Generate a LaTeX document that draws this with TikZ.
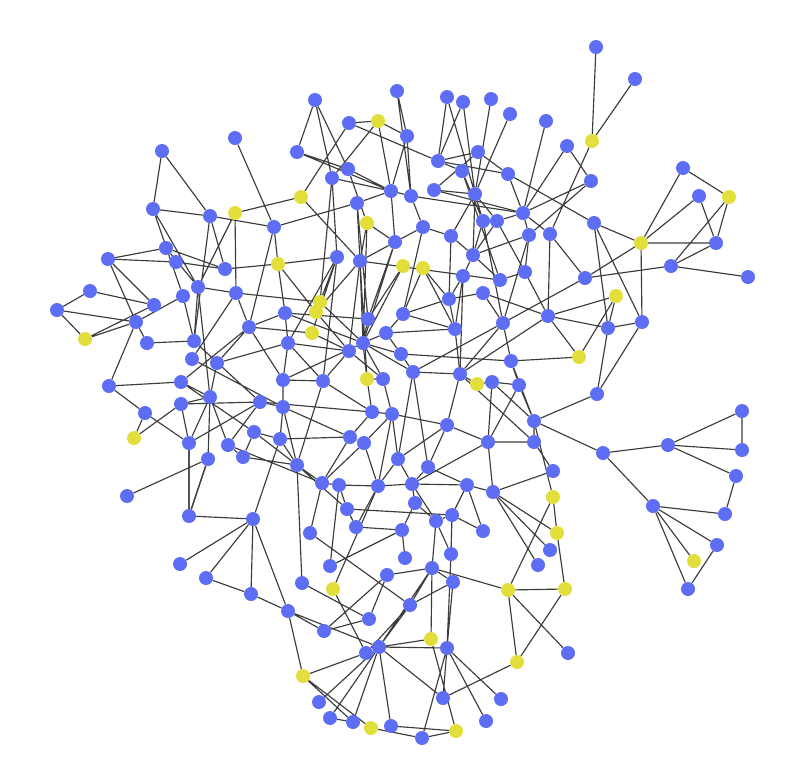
\documentclass[tikz,border=0pt]{standalone}
\usetikzlibrary{backgrounds}
\definecolor{nblue}{HTML}{5E6EF4}
\definecolor{nyel}{HTML}{E2DE3C}
\definecolor{edgec}{HTML}{3C3C3C}
\tikzset{
 bn/.style={circle,fill=nblue,draw=none,minimum size=14pt,inner sep=0pt},
 yn/.style={circle,fill=nyel,draw=none,minimum size=14pt,inner sep=0pt},
 ln/.style={draw=edgec,line width=1.15pt}
}
\begin{document}
\begin{tikzpicture}[x=1pt,y=-1pt]
\useasboundingbox (0,0) rectangle (800,772);
% top right
\node[bn] (a1) at (596,47) {};
\node[bn] (a2) at (635,79) {};
\node[yn] (a3) at (592,141) {};
\node[bn] (a4) at (546,121) {};
\node[bn] (a5) at (567,146) {};
\node[bn] (a6) at (591,181) {};
\node[bn] (a7) at (683,168) {};
\node[bn] (a8) at (699,196) {};
\node[yn] (a9) at (729,197) {};
\node[bn] (a10) at (594,223) {};
\node[yn] (a11) at (641,243) {};
\node[bn] (a12) at (716,243) {};
\node[bn] (a13) at (671,266) {};
\node[bn] (a14) at (748,277) {};
\node[bn] (a15) at (585,278) {};
\node[bn] (a16) at (523,213) {};
\node[bn] (a17) at (529,235) {};
\node[bn] (a18) at (550,234) {};
\node[bn] (a19) at (525,272) {};
% top center
\node[bn] (b1) at (315,100) {};
\node[bn] (b2) at (397,91) {};
\node[bn] (b3) at (447,97) {};
\node[bn] (b4) at (463,102) {};
\node[bn] (b5) at (491,99) {};
\node[bn] (b6) at (510,114) {};
\node[bn] (b7) at (349,123) {};
\node[yn] (b8) at (378,121) {};
\node[bn] (b9) at (407,136) {};
\node[bn] (b10) at (297,152) {};
\node[bn] (b11) at (438,161) {};
\node[bn] (b12) at (478,152) {};
\node[bn] (b13) at (462,171) {};
\node[bn] (b14) at (508,174) {};
\node[bn] (b15) at (348,169) {};
\node[bn] (b16) at (332,178) {};
\node[bn] (b17) at (391,191) {};
\node[bn] (b18) at (411,196) {};
\node[bn] (b19) at (434,190) {};
\node[bn] (b20) at (475,194) {};
\node[yn] (b21) at (301,197) {};
\node[bn] (b22) at (357,203) {};
\node[yn] (b23) at (367,223) {};
\node[bn] (b24) at (483,221) {};
\node[bn] (b25) at (497,221) {};
\node[bn] (b26) at (423,227) {};
\node[bn] (b27) at (451,236) {};
\node[bn] (b28) at (395,242) {};
\node[bn] (b29) at (473,255) {};
\node[bn] (b30) at (337,257) {};
\node[bn] (b31) at (360,261) {};
\node[yn] (b32) at (403,266) {};
\node[yn] (b33) at (423,268) {};
\node[bn] (b34) at (463,276) {};
% top left
\node[bn] (c1) at (235,138) {};
\node[bn] (c2) at (162,151) {};
\node[bn] (c3) at (153,209) {};
\node[bn] (c4) at (210,216) {};
\node[yn] (c5) at (235,213) {};
\node[bn] (c6) at (274,227) {};
\node[yn] (c7) at (278,264) {};
\node[bn] (c8) at (166,248) {};
\node[bn] (c9) at (108,259) {};
\node[bn] (c10) at (176,262) {};
\node[bn] (c11) at (225,269) {};
% left
\node[bn] (d1) at (90,291) {};
\node[bn] (d2) at (57,310) {};
\node[yn] (d3) at (85,339) {};
\node[bn] (d4) at (136,322) {};
\node[bn] (d5) at (154,305) {};
\node[bn] (d6) at (183,296) {};
\node[bn] (d7) at (198,287) {};
\node[bn] (d8) at (236,293) {};
\node[bn] (d9) at (249,327) {};
\node[bn] (d10) at (285,313) {};
\node[bn] (d11) at (147,343) {};
\node[bn] (d12) at (194,341) {};
\node[bn] (d13) at (192,359) {};
\node[bn] (d14) at (217,363) {};
\node[bn] (d15) at (288,343) {};
\node[bn] (d16) at (109,386) {};
\node[bn] (d17) at (181,382) {};
\node[bn] (d18) at (210,397) {};
\node[bn] (d19) at (181,404) {};
\node[bn] (d20) at (260,402) {};
\node[bn] (d21) at (283,407) {};
\node[bn] (d22) at (283,380) {};
\node[bn] (d23) at (145,413) {};
\node[yn] (d24) at (134,438) {};
\node[bn] (d25) at (189,443) {};
\node[bn] (d26) at (228,445) {};
\node[bn] (d27) at (254,432) {};
\node[bn] (d28) at (280,439) {};
\node[bn] (d29) at (208,459) {};
\node[bn] (d30) at (243,457) {};
\node[bn] (d31) at (127,496) {};
\node[bn] (d32) at (189,516) {};
\node[bn] (d33) at (253,519) {};
\node[bn] (e1) at (180,564) {};
\node[bn] (e2) at (206,578) {};
\node[bn] (e3) at (251,594) {};
\node[bn] (e4) at (288,611) {};
% center
\node[bn] (f1) at (500,280) {};
\node[bn] (f2) at (483,293) {};
\node[bn] (f3) at (449,299) {};
\node[yn] (f4) at (320,302) {};
\node[yn] (f5) at (316,312) {};
\node[bn] (f6) at (368,319) {};
\node[bn] (f7) at (403,314) {};
\node[bn] (f8) at (455,329) {};
\node[bn] (f9) at (503,323) {};
\node[yn] (f10) at (312,333) {};
\node[bn] (f11) at (386,333) {};
\node[bn] (f12) at (363,343) {};
\node[bn] (f13) at (349,351) {};
\node[bn] (f14) at (401,354) {};
\node[bn] (f15) at (511,361) {};
\node[bn] (f16) at (323,381) {};
\node[yn] (f17) at (367,379) {};
\node[bn] (f18) at (383,379) {};
\node[bn] (f19) at (413,372) {};
\node[bn] (f20) at (460,374) {};
\node[yn] (f21) at (477,384) {};
\node[bn] (f22) at (492,382) {};
\node[bn] (f23) at (519,385) {};
\node[bn] (f24) at (372,412) {};
\node[bn] (f25) at (392,414) {};
\node[bn] (f26) at (447,425) {};
\node[bn] (f27) at (488,442) {};
\node[bn] (f28) at (350,437) {};
\node[bn] (f29) at (364,443) {};
\node[bn] (f30) at (297,465) {};
\node[bn] (f31) at (398,459) {};
\node[bn] (f32) at (428,467) {};
\node[bn] (f33) at (322,483) {};
\node[bn] (f34) at (339,485) {};
\node[bn] (f35) at (378,486) {};
\node[bn] (f36) at (412,484) {};
\node[bn] (f37) at (467,485) {};
\node[bn] (f38) at (493,492) {};
\node[bn] (f39) at (347,509) {};
\node[bn] (f40) at (415,503) {};
\node[bn] (f41) at (452,515) {};
% right middle
\node[yn] (g1) at (616,296) {};
\node[bn] (g2) at (548,316) {};
\node[bn] (g3) at (608,328) {};
\node[bn] (g4) at (642,322) {};
\node[yn] (g5) at (579,357) {};
\node[bn] (g7) at (597,394) {};
\node[bn] (g8) at (534,421) {};
\node[bn] (g9) at (534,442) {};
\node[bn] (g10) at (603,453) {};
\node[bn] (g11) at (668,445) {};
\node[bn] (g12) at (742,411) {};
\node[bn] (g13) at (742,450) {};
\node[bn] (g14) at (736,476) {};
\node[bn] (g15) at (553,471) {};
\node[yn] (g16) at (553,497) {};
\node[bn] (g17) at (653,506) {};
\node[bn] (g18) at (725,514) {};
\node[yn] (h1) at (557,533) {};
\node[bn] (h2) at (550,550) {};
\node[bn] (h3) at (538,565) {};
\node[yn] (h4) at (565,589) {};
\node[bn] (h5) at (568,653) {};
\node[yn] (h6) at (517,662) {};
\node[bn] (h7) at (717,545) {};
\node[yn] (h8) at (694,561) {};
\node[bn] (h9) at (688,589) {};
% bottom
\node[bn] (i1) at (436,521) {};
\node[bn] (i2) at (483,531) {};
\node[bn] (i3) at (310,533) {};
\node[bn] (i4) at (356,527) {};
\node[bn] (i5) at (402,530) {};
\node[bn] (i6) at (451,554) {};
\node[bn] (i7) at (405,558) {};
\node[bn] (i8) at (330,566) {};
\node[bn] (i9) at (387,575) {};
\node[bn] (i10) at (432,568) {};
\node[bn] (i11) at (453,582) {};
\node[bn] (i12) at (302,583) {};
\node[yn] (i13) at (333,589) {};
\node[yn] (i14) at (508,590) {};
\node[bn] (i15) at (410,605) {};
\node[bn] (i16) at (369,619) {};
\node[bn] (i17) at (324,631) {};
\node[yn] (i18) at (431,639) {};
\node[bn] (i19) at (379,647) {};
\node[bn] (i20) at (447,648) {};
\node[bn] (i21) at (366,653) {};
\node[yn] (i22) at (303,676) {};
\node[bn] (i23) at (443,698) {};
\node[bn] (i24) at (501,699) {};
\node[bn] (i25) at (319,702) {};
\node[bn] (i26) at (330,718) {};
\node[bn] (i27) at (353,722) {};
\node[yn] (i28) at (371,728) {};
\node[bn] (i29) at (391,726) {};
\node[bn] (i30) at (422,738) {};
\node[yn] (i31) at (456,731) {};
\node[bn] (i32) at (486,721) {};

\begin{pgfonlayer}{background}
\draw[ln] (a1)--(a3) (a2)--(a3) (a3)--(a18) (a4)--(a16) (a5)--(a16) (a5)--(a6) (a6)--(a16) (a16)--(a17) (a16)--(a18) (b14)--(a10) (a10)--(a11) (a10)--(g3) (a10)--(g4) (a11)--(a7) (a11)--(a8) (a11)--(a12) (a11)--(a15) (a11)--(g4) (a7)--(a9) (a8)--(a12) (a9)--(a12) (a9)--(a13) (a12)--(a13) (a13)--(a14) (a13)--(a15) (a18)--(a15) (a17)--(a19) (a15)--(f9) (b29)--(a17) (b18)--(a16) (b14)--(a16) (a6)--(a17) (b25)--(a16);
\draw[ln] (g2)--(g1) (g2)--(g3) (g2)--(g5) (g2)--(f20) (g2)--(f2) (g1)--(g3) (g1)--(g5) (g3)--(g4) (g3)--(g7) (g4)--(g7) (g5)--(f15) (g7)--(g8) (g8)--(g10) (g10)--(g11) (g11)--(g12) (g11)--(g13) (g12)--(g13) (g11)--(g14) (g10)--(g17) (g17)--(g18) (g14)--(g18) (g17)--(h7) (g17)--(h8) (g17)--(h9) (h7)--(h9) (g8)--(g9) (g9)--(g15) (g8)--(g16) (g8)--(f23) (g8)--(f22) (g8)--(f15) (g16)--(h1) (h1)--(h4) (g16)--(i14) (f38)--(h1) (f38)--(h2) (f38)--(h3) (i14)--(h4) (h4)--(h6) (i14)--(h5) (h6)--(i23) (i14)--(h6) (i14)--(i10) (f38)--(g15);
\draw[ln] (d32)--(d33) (d33)--(e1) (d33)--(e2) (d33)--(e3) (d33)--(e4) (e2)--(e3) (e3)--(e4) (d32)--(d25) (d32)--(d29) (d33)--(d28) (e4)--(i17) (e4)--(i19) (e4)--(i22);
\draw[ln] (f39)--(f41) (i4)--(i5) (i3)--(i15) (i8)--(i5) (i12)--(i16) (i13)--(i21) (i13)--(f35) (i17)--(i16) (i17)--(i9) (i19)--(i25) (i19)--(i26) (i19)--(i27) (i19)--(i29) (i19)--(i23) (i19)--(i15) (i19)--(i10) (i21)--(i22) (i21)--(i15) (i22)--(i27) (i18)--(i10) (i18)--(i31) (i20)--(i23) (i20)--(i24) (i20)--(i32) (i20)--(i30) (i20)--(i11) (i30)--(i31) (i29)--(i31) (i28)--(i30) (i26)--(i27) (i1)--(i6) (i1)--(i10) (i5)--(i7) (i9)--(i10) (i15)--(i10) (i15)--(i11) (i10)--(i11) (f41)--(i2) (i19)--(i18) (i19)--(i20) (i22)--(i28) (i16)--(i9) (i6)--(i20) (i3)--(f33) (i8)--(f34) (i12)--(f30) (i2)--(f37);
\draw[ln] (d1)--(d2) (d1)--(d5) (d2)--(d3) (d2)--(d4) (d3)--(d4) (d3)--(d5) (c9)--(d5) (c9)--(d4) (d4)--(d16) (d4)--(d6) (d7)--(d8) (d6)--(d12) (d7)--(d12) (d7)--(d18) (d8)--(d9) (d8)--(d13) (d11)--(d12) (d9)--(d10) (d9)--(d22) (d9)--(d17) (d9)--(d14) (d14)--(d15) (d14)--(d18) (d16)--(d17) (d16)--(d23) (d17)--(d18) (d18)--(d19) (d19)--(d20) (d18)--(d26) (d18)--(d25) (d18)--(d29) (d19)--(d25) (d20)--(d26) (d20)--(d21) (d20)--(d25) (d23)--(d24) (d23)--(d25) (d24)--(d19) (d25)--(d32) (d29)--(d31) (d29)--(d32) (d27)--(d28) (d26)--(d30) (d27)--(d30) (d11)--(d4) (d13)--(d21) (d12)--(d20) (d17)--(d27);
\draw[ln] (c1)--(c6) (c2)--(c3) (c2)--(c4) (c3)--(c4) (c4)--(c6) (c5)--(b21) (c3)--(d6) (c4)--(d12) (c4)--(c11) (c5)--(d8) (c5)--(d7) (c6)--(c7) (c6)--(d9) (c6)--(b22) (c9)--(c8) (c9)--(c10) (c10)--(c11) (c11)--(c7) (c3)--(d7) (c8)--(d7) (c8)--(c11);
\draw[ln] (b1)--(b10) (b1)--(b16) (b1)--(b15) (b7)--(b8) (b7)--(b21) (b7)--(b11) (b8)--(b17) (b8)--(b9) (b2)--(b9) (b2)--(b18) (b9)--(b17) (b9)--(b18) (b3)--(b11) (b3)--(b20) (b4)--(b11) (b4)--(b20) (b5)--(b20) (b6)--(b20) (b10)--(b15) (b10)--(b17) (b12)--(b11) (b12)--(b14) (b11)--(b14) (b11)--(b13) (b13)--(b24) (b15)--(b17) (b16)--(b17) (b16)--(b30) (b17)--(b18) (b17)--(b22) (b17)--(b28) (b18)--(b26) (b20)--(b24) (b20)--(b25) (b20)--(b29) (b20)--(b27) (b21)--(b31) (b22)--(b31) (b23)--(b31) (b23)--(b28) (b26)--(b28) (b27)--(b29) (b28)--(b31) (b24)--(b29) (b25)--(b29) (b29)--(b34) (b12)--(b19) (b19)--(b20) (b8)--(b16);
\draw[ln] (d10)--(f12) (f4)--(f12) (f5)--(f13) (f10)--(f13) (f6)--(f12) (f6)--(b32) (f7)--(f11) (f7)--(f3) (f11)--(f12) (f11)--(f8) (f14)--(f12) (f12)--(f17) (f12)--(f18) (f12)--(f19) (f19)--(f20) (f20)--(f21) (f21)--(f22) (f22)--(f23) (f17)--(f18) (f24)--(f25) (f26)--(f25) (f26)--(f27) (f28)--(f29) (f35)--(f36) (f36)--(f37) (f37)--(f38) (f27)--(f38) (f8)--(f3) (f3)--(b33) (f9)--(f2) (f9)--(f15) (f1)--(a19) (f15)--(f23) (f11)--(f14) (f13)--(f16) (f13)--(f18) (f16)--(d22) (f16)--(f24) (f17)--(f24) (f18)--(f25) (f19)--(f31) (f20)--(f26) (f22)--(f27) (f24)--(f28) (f25)--(f31) (f25)--(f35) (f26)--(f32) (f28)--(d28) (f29)--(f33) (f29)--(f35) (f30)--(f33) (f30)--(d21) (f30)--(f39) (f31)--(f36) (f32)--(f36) (f32)--(f37) (f33)--(f34) (f34)--(f39) (f34)--(f35) (f35)--(i4) (f36)--(f40) (f36)--(i1) (f37)--(f41) (f39)--(i4) (f40)--(i5) (f41)--(i1) (f41)--(i6) (f7)--(b33) (f4)--(b30) (f5)--(b31) (f10)--(b30) (f12)--(b31) (f8)--(b34) (f1)--(b29);
\draw[ln] (b28)--(f12) (b31)--(f17) (b30)--(f16) (b28)--(f6) (b26)--(f7) (b27)--(f3) (b34)--(f20) (b24)--(f9) (b25)--(a19) (a17)--(f9) (a18)--(g2) (a19)--(g2) (d10)--(f6) (d15)--(f13) (d22)--(f12) (d9)--(f10) (d8)--(f4) (c7)--(f5) (c7)--(b30) (d15)--(d10) (d22)--(d15) (d21)--(d22) (d28)--(d21) (d27)--(f30) (d30)--(f30) (b22)--(f6) (b23)--(f12) (b16)--(f4) (b15)--(b23) (b26)--(b27) (b19)--(a16) (b13)--(f1) (f2)--(f3) (f14)--(f19) (f19)--(f32) (f20)--(g9) (f27)--(g9) (f23)--(f27) (f26)--(f31) (d26)--(f33) (d20)--(f24) (d21)--(f28) (d15)--(f16);
\draw[ln] (b33)--(f8) (f3)--(b34) (f8)--(f20) (f9)--(f20) (f19)--(f9) (f14)--(f15) (f7)--(f8) (b30)--(d15) (b31)--(f13) (c7)--(d10) (f27)--(f36) (f40)--(i1) (f28)--(f33) (f30)--(d28) (f16)--(f30) (f25)--(f29) (f31)--(f35) (b31)--(f1) (b32)--(f12);
\end{pgfonlayer}
\end{tikzpicture}
\end{document}
